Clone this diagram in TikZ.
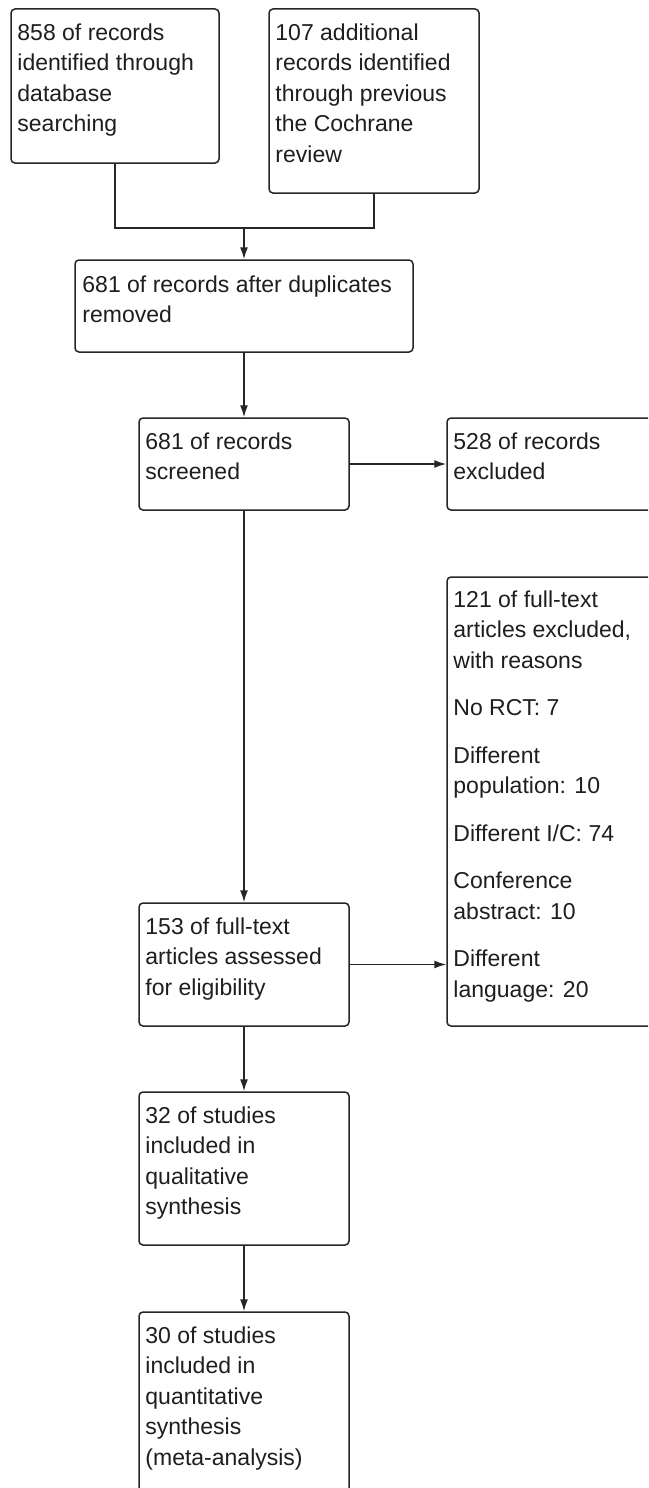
\documentclass[tikz,border=0pt]{standalone}
\usepackage{fontspec}
\setmainfont{Liberation Sans}
\usetikzlibrary{arrows.meta,calc}
\definecolor{edgecol}{HTML}{262626}
\definecolor{txtcol}{HTML}{1E1E1E}
\tikzset{
  flowbox/.style={draw=edgecol, line width=1.5pt, rounded corners=4pt, rectangle, inner sep=0pt, minimum width=#1},
  flowbox/.default=210pt,
  boxtext/.style={anchor=base west, inner sep=0pt, text=txtcol, font=\fontsize{23}{30.5}\selectfont},
  conn/.style={draw=edgecol, line width=1.5pt},
  arr/.style={conn, -{Latex[length=12pt,width=8pt]}}
}
\newcommand{\btxt}[1]{\begin{tabular}[t]{@{}l@{}}#1\end{tabular}}
\begin{document}
\begin{tikzpicture}[x=1pt,y=-1pt]
\useasboundingbox (0,0) rectangle (648,1488);
\fill[white] (0,0) rectangle (648,1488);
\clip (0,0) rectangle (648,1488);

% boxes
\node[flowbox=208pt, minimum height=154pt] (b1) at (115,86) {};
\node[flowbox=210pt, minimum height=184pt] (b2) at (374,101) {};
\node[flowbox=338pt, minimum height=92pt] (b3) at (244,306) {};
\node[flowbox, minimum height=92pt] (b4) at (244,464) {};
\node[flowbox, minimum height=92pt] (b5) at (552,464) {};
\node[flowbox, minimum height=449pt] (b6) at (552,801.5) {};
\node[flowbox, minimum height=123pt] (b7) at (244,964.5) {};
\node[flowbox, minimum height=153pt] (b8) at (244,1168.5) {};
\node[flowbox, minimum height=184pt] (b9) at (244,1404) {};

% texts
\node[boxtext] (t1) at ($(b1.north west)+(7,32)$) {\btxt{858 of records\\identified through\\database\\searching}};
\node[boxtext] (t2) at ($(b2.north west)+(7,32)$) {\btxt{107 additional\\records identified\\through previous\\the Cochrane\\review}};
\node[boxtext] (t3) at ($(b3.north west)+(8,33)$) {\btxt{681 of records after duplicates\\removed}};
\node[boxtext] (t4) at ($(b4.north west)+(7,32)$) {\btxt{681 of records\\screened}};
\node[boxtext] (t5) at ($(b5.north west)+(7,32)$) {\btxt{528 of records\\excluded}};
\node[boxtext] (t6) at ($(b6.north west)+(7,31)$) {\btxt{121 of full-text\\articles excluded,\\with reasons\\[17pt]No RCT: 7\\[17pt]Different\\population: 10\\[17pt]Different I/C: 74\\[17pt]Conference\\abstract: 10\\[17pt]Different\\language: 20}};
\node[boxtext] (t7) at ($(b7.north west)+(7,32)$) {\btxt{153 of full-text\\articles assessed\\for eligibility}};
\node[boxtext] (t8) at ($(b8.north west)+(7,32)$) {\btxt{32 of studies\\included in\\qualitative\\synthesis}};
\node[boxtext] (t9) at ($(b9.north west)+(7,32)$) {\btxt{30 of studies\\included in\\quantitative\\synthesis\\(meta-analysis)}};

% connectors
\coordinate (j) at (b3.north |- 0,228);
\draw[conn] (b1.south) |- (j);
\draw[conn] (b2.south) |- (j);
\draw[arr] (j) -- (b3.north);
\draw[arr] (b3.south) -- (b4.north);
\draw[arr] (b4.east) -- (b5.west);
\draw[arr] (b4.south) -- (b7.north);
\draw[arr] (b7.east) -- (b7.east -| b6.west);
\draw[arr] (b7.south) -- (b8.north);
\draw[arr] (b8.south) -- (b9.north);
\end{tikzpicture}
\end{document}
